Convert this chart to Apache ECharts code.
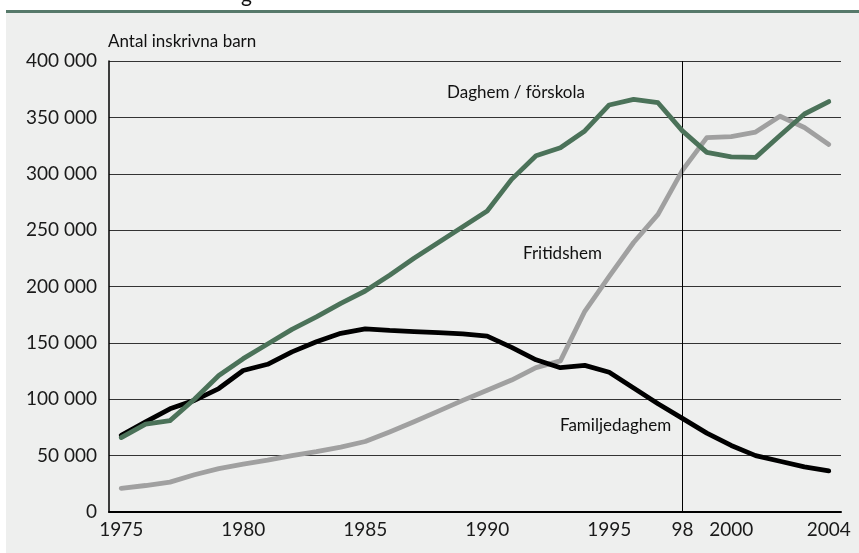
<!DOCTYPE html>
<html>
<head>
<meta charset="utf-8">
<script src="https://cdn.jsdelivr.net/npm/echarts@6/dist/echarts.min.js"></script>
<style>
html,body{margin:0;padding:0;background:#ffffff;}
#c{width:859px;height:553px;}
</style>
</head>
<body>
<div id="c"></div>
<script>
const years = [1975,1976,1977,1978,1979,1980,1981,1982,1983,1984,1985,1986,1987,1988,1989,1990,1991,1992,1993,1994,1995,1996,1997,1998,1999,2000,2001,2002,2003,2004];
const daghem = [66000,78000,81000,100000,121000,136000,149000,162000,173000,185000,196000,210000,225000,239000,253000,267000,295000,316000,323000,338000,361000,366000,363000,338000,319000,315000,314500,334000,353000,364000];
const fritidshem = [21000,23500,26500,33000,38500,42500,46000,50000,53500,57500,62500,71000,80000,89500,99000,108000,117000,128000,134000,178000,209000,239000,264000,303000,332000,333000,337000,351000,341000,326000];
const familjedaghem = [68000,80000,91500,99000,109500,125500,131000,142000,151000,158500,162500,161000,160000,159000,158000,156000,146000,135000,128000,130000,124000,110000,96000,83000,70000,59000,50000,45000,40000,36500];
const xTickValues = [1975,1980,1985,1990,1995,1998,2000,2004];
const xTickLabels = ['1975','1980','1985','1990','1995','98','2000','2004'];
const seriesNames = ['Daghem / förskola','Fritidshem','Familjedaghem'];
const yAxisTitle = 'Antal inskrivna barn';
const markYear = 1998;

const FONT = 'Lato';
const pairs = arr => years.map((y,i)=>[y,arr[i]]);

const chart = echarts.init(document.getElementById('c'), null, {renderer:'canvas'});
const lineBase = {type:'line', showSymbol:false, symbol:'none', smooth:false, silent:true,
  lineStyle:{width:4.8, join:'round', cap:'round'}};

chart.setOption({
  animation:false,
  backgroundColor:'#ffffff',
  grid:{left:109, right:18, top:61, bottom:41, show:false},
  xAxis:{
    type:'value', min:1974.5, max:2004.5,
    axisLine:{show:true, onZero:false, lineStyle:{color:'#000', width:2}},
    axisTick:{show:false},
    splitLine:{show:false},
    axisLabel:{customValues:xTickValues, color:'#1a1a1a', fontFamily:FONT, fontSize:19, margin:8,
      formatter:v=>{const i=xTickValues.indexOf(v);return i>=0?xTickLabels[i]:'';}}
  },
  yAxis:{
    type:'value', min:0, max:400000, interval:50000,
    axisLine:{show:true, lineStyle:{color:'#000', width:1.5}},
    axisTick:{show:false},
    splitLine:{show:true, lineStyle:{color:'#333', width:1}},
    axisLabel:{color:'#1a1a1a', fontFamily:FONT, fontSize:19, margin:12,
      formatter:v=>v===0?'0':String(v).replace(/\B(?=(\d{3})+(?!\d))/g,' ')}
  },
  graphic:[
    {type:'rect', z:-10, shape:{x:6, y:13, width:853, height:540}, style:{fill:'#eeefee'}},
    {type:'rect', z:-9, shape:{x:6, y:10, width:853, height:3}, style:{fill:'#56796a'}},
    {type:'text', left:241, top:-15, style:{text:'g', font:'21px '+FONT, fill:'#111'}},
    {type:'text', left:108, top:33, style:{text:yAxisTitle, font:'17px '+FONT, fill:'#111'}},
    {type:'text', left:447, top:84, style:{text:seriesNames[0], font:'17px '+FONT, fill:'#111'}},
    {type:'text', left:523, top:245, style:{text:seriesNames[1], font:'17px '+FONT, fill:'#111'}},
    {type:'text', left:560, top:417, style:{text:seriesNames[2], font:'17px '+FONT, fill:'#111'}}
  ],
  series:[
    Object.assign({}, lineBase, {name:seriesNames[1], data:pairs(fritidshem), z:3,
      lineStyle:Object.assign({}, lineBase.lineStyle, {color:'#a0a0a0'}),
      markLine:{silent:true, symbol:['none','none'], label:{show:false},
        lineStyle:{color:'#000', width:1, type:'solid'}, data:[{xAxis:markYear}]}}),
    Object.assign({}, lineBase, {name:seriesNames[2], data:pairs(familjedaghem), z:4,
      lineStyle:Object.assign({}, lineBase.lineStyle, {color:'#000000'})}),
    Object.assign({}, lineBase, {name:seriesNames[0], data:pairs(daghem), z:5,
      lineStyle:Object.assign({}, lineBase.lineStyle, {color:'#4b7259'})})
  ]
});
</script>
</body>
</html>
